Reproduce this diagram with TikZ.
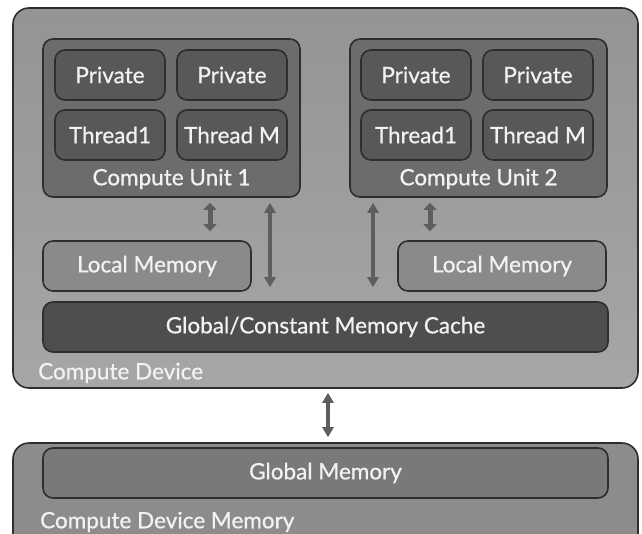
\documentclass[tikz,border=0pt]{standalone}
\usepackage{fontspec}
\setmainfont{Lato}
\newfontfamily\gillfont{Lato}[FakeBold=0.7]
\usetikzlibrary{arrows.meta}
\definecolor{bordc}{HTML}{2E2E2E}
\definecolor{txtc}{HTML}{F2F2F2}
\definecolor{devtop}{HTML}{949494}
\definecolor{devbot}{HTML}{A6A6A6}
\definecolor{cuc}{HTML}{6C6C6C}
\definecolor{thc}{HTML}{585858}
\definecolor{locc}{HTML}{8A8A8A}
\definecolor{cachec}{HTML}{4E4E4E}
\definecolor{gmc}{HTML}{797979}
\definecolor{memc}{HTML}{8C8C8C}
\definecolor{arrc}{HTML}{5E5E5E}
\begin{document}
\begin{tikzpicture}[x=1pt,y=-1pt,
  box/.style={draw=bordc, line width=1.6pt, rounded corners=10pt, inner sep=0pt, text=txtc, font=\gillfont\fontsize{22.5}{26}\selectfont},
  lbl/.style={inner sep=0pt, text=txtc, font=\gillfont\fontsize{22.5}{26}\selectfont},
  conn/.style={draw=arrc, line width=3.2pt, {Triangle[length=10pt,width=11pt]}-{Triangle[length=10pt,width=11pt]}},
  fatconn/.style={draw=arrc, line width=5pt, {Triangle[length=7pt,width=13pt]}-{Triangle[length=7pt,width=13pt]}}
  ]
\useasboundingbox (0,0) rectangle (642,533);
\begin{scope}
\clip (0,0) rectangle (642,533);
% Compute device
\node[box, rounded corners=16pt, top color=devtop, bottom color=devbot, minimum width=625pt, minimum height=380pt] (dev) at (325.5,198) {};
% Compute units
\node[box, fill=cuc, minimum width=257pt, minimum height=158pt] (cu1) at (171.5,118) {};
\node[box, fill=cuc, minimum width=257pt, minimum height=158pt] (cu2) at (478.5,118) {};
\node[box, fill=thc, minimum width=110pt, minimum height=50pt] (p11) at (110,75) {Private};
\node[box, fill=thc, minimum width=110pt, minimum height=50pt] (p12) at (232,75) {Private};
\node[box, fill=thc, minimum width=110pt, minimum height=50pt] (t11) at (110,135) {Thread1};
\node[box, fill=thc, minimum width=110pt, minimum height=50pt] (t12) at (232,135) {Thread M};
\node[lbl] (cu1l) at (171.5,179) {Compute Unit 1};
\node[box, fill=thc, minimum width=110pt, minimum height=50pt] (p21) at (416,75) {Private};
\node[box, fill=thc, minimum width=110pt, minimum height=50pt] (p22) at (538,75) {Private};
\node[box, fill=thc, minimum width=110pt, minimum height=50pt] (t21) at (416,135) {Thread1};
\node[box, fill=thc, minimum width=110pt, minimum height=50pt] (t22) at (538,135) {Thread M};
\node[lbl] (cu2l) at (478.5,179) {Compute Unit 2};
% Local memories
\node[box, fill=locc, minimum width=208pt, minimum height=50pt] (loc1) at (147,266) {Local Memory};
\node[box, fill=locc, minimum width=208pt, minimum height=50pt] (loc2) at (502,266) {Local Memory};
% Cache
\node[box, fill=cachec, minimum width=565pt, minimum height=50pt] (cache) at (325.5,327) {Global/Constant Memory Cache};
\node[lbl, anchor=west] (devl) at (38,373) {Compute Device};
% Device memory
\node[box, rounded corners=16pt, fill=memc, minimum width=625pt, minimum height=110pt] (mem) at (325.5,498) {};
\node[box, fill=gmc, minimum width=565pt, minimum height=50pt] (gm) at (325.5,473) {Global Memory};
\node[lbl, anchor=west] (meml) at (40,522) {Compute Device Memory};
\end{scope}
% Connectors
\draw[fatconn, shorten <=5pt, shorten >=9pt] (210,0 |- cu1.south) -- (210,0 |- loc1.north);
\draw[fatconn, shorten <=5pt, shorten >=9pt] (430,0 |- cu2.south) -- (430,0 |- loc2.north);
\draw[conn, shorten <=5pt, shorten >=14pt] (270,0 |- cu1.south) -- (270,0 |- cache.north);
\draw[conn, shorten <=5pt, shorten >=14pt] (373,0 |- cu2.south) -- (373,0 |- cache.north);
\draw[conn, shorten <=4pt, shorten >=5pt] (328,0 |- dev.south) -- (328,0 |- mem.north);
\end{tikzpicture}
\end{document}
